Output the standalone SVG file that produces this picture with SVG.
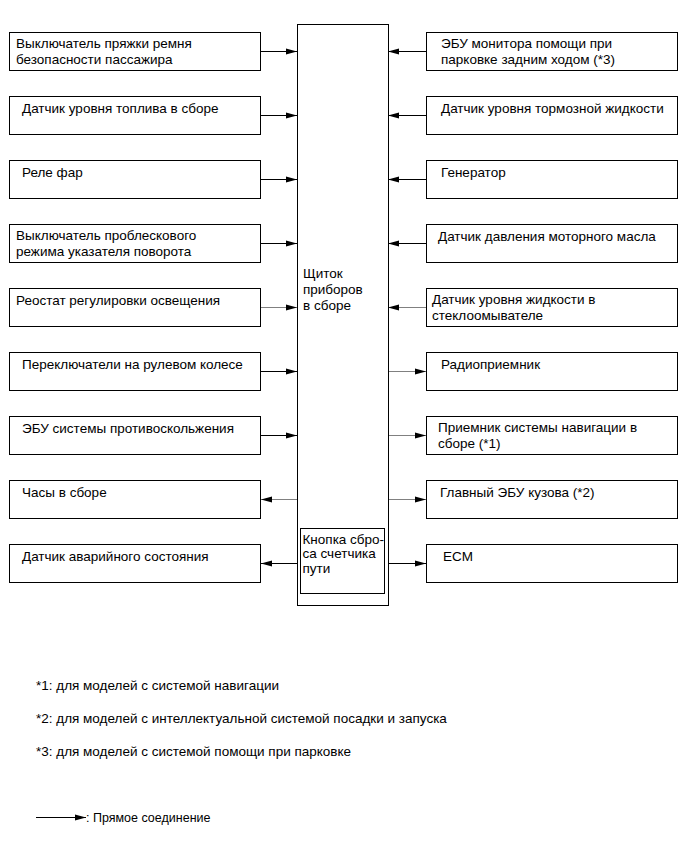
<svg xmlns="http://www.w3.org/2000/svg" width="691" height="854" viewBox="0 0 691 854">
<style>
.bx{fill:#fff;stroke:#000;stroke-width:1}
.t{font-family:"Liberation Sans",Arial,sans-serif;font-size:13.5px;fill:#000}
.c{stroke:#000;stroke-width:1;fill:none;marker-end:url(#ah)}
.g{stroke:#808080}
</style>
<defs>
<marker id="ah" markerUnits="userSpaceOnUse" markerWidth="12" markerHeight="8" refX="11" refY="4" orient="auto">
<path d="M0,1 L11,4 L0,7 Z" fill="#000"/>
</marker>
</defs>
<rect width="691" height="854" fill="#fff"/>
<g id="connectors">
<line class="c" x1="261" y1="51.5" x2="297" y2="51.5"/>
<line class="c" x1="261" y1="115.5" x2="297" y2="115.5"/>
<line class="c" x1="261" y1="179.5" x2="297" y2="179.5"/>
<line class="c" x1="261" y1="243.5" x2="297" y2="243.5"/>
<line class="c g" x1="261" y1="307.5" x2="297" y2="307.5"/>
<line class="c" x1="261" y1="371.5" x2="297" y2="371.5"/>
<line class="c" x1="261" y1="435.5" x2="297" y2="435.5"/>
<line class="c g" x1="297" y1="499.5" x2="261" y2="499.5"/>
<line class="c" x1="297" y1="563.5" x2="261" y2="563.5"/>
<line class="c" x1="426" y1="51.5" x2="388" y2="51.5"/>
<line class="c" x1="426" y1="115.5" x2="388" y2="115.5"/>
<line class="c" x1="426" y1="179.5" x2="388" y2="179.5"/>
<line class="c" x1="426" y1="243.5" x2="388" y2="243.5"/>
<line class="c g" x1="426" y1="307.5" x2="388" y2="307.5"/>
<line class="c g" x1="388" y1="371.5" x2="426" y2="371.5"/>
<line class="c g" x1="388" y1="435.5" x2="426" y2="435.5"/>
<line class="c g" x1="388" y1="499.5" x2="426" y2="499.5"/>
<line class="c" x1="388" y1="563.5" x2="426" y2="563.5"/>
</g>
<g id="center">
<rect class="bx" x="297.5" y="24.5" width="91" height="581"/>
<text class="t" x="303" y="277.5">Щиток</text>
<text class="t" x="303" y="293.5">приборов</text>
<text class="t" x="303" y="309.5">в сборе</text>
</g>
<g id="reset">
<rect class="bx" x="300.5" y="528.5" width="84" height="65"/>
<text class="t" x="302.5" y="543.5">Кнопка сбро-</text>
<text class="t" x="302.5" y="558">са счетчика</text>
<text class="t" x="302.5" y="572.5">пути</text>
</g>
<g id="l1"><rect class="bx" x="9.5" y="32.5" width="251" height="38"/><text class="t" x="16" y="48">Выключатель пряжки ремня</text><text class="t" x="16" y="63.5">безопасности пассажира</text></g>
<g id="l2"><rect class="bx" x="9.5" y="96.5" width="251" height="38"/><text class="t" x="22" y="113">Датчик уровня топлива в сборе</text></g>
<g id="l3"><rect class="bx" x="9.5" y="160.5" width="251" height="38"/><text class="t" x="22" y="177">Реле фар</text></g>
<g id="l4"><rect class="bx" x="9.5" y="224.5" width="251" height="38"/><text class="t" x="16" y="240">Выключатель проблескового</text><text class="t" x="16" y="255.5">режима указателя поворота</text></g>
<g id="l5"><rect class="bx" x="9.5" y="288.5" width="251" height="38"/><text class="t" x="16" y="305">Реостат регулировки освещения</text></g>
<g id="l6"><rect class="bx" x="9.5" y="352.5" width="251" height="38"/><text class="t" x="22" y="369">Переключатели на рулевом колесе</text></g>
<g id="l7"><rect class="bx" x="9.5" y="416.5" width="251" height="38"/><text class="t" x="22" y="433">ЭБУ системы противоскольжения</text></g>
<g id="l8"><rect class="bx" x="9.5" y="480.5" width="251" height="38"/><text class="t" x="22" y="497">Часы в сборе</text></g>
<g id="l9"><rect class="bx" x="9.5" y="544.5" width="251" height="38"/><text class="t" x="22" y="561">Датчик аварийного состояния</text></g>
<g id="r1"><rect class="bx" x="426.5" y="32.5" width="251" height="38"/><text class="t" x="441" y="48">ЭБУ монитора помощи при</text><text class="t" x="441" y="63.5">парковке задним ходом (*3)</text></g>
<g id="r2"><rect class="bx" x="426.5" y="96.5" width="251" height="38"/><text class="t" x="441" y="113">Датчик уровня тормозной жидкости</text></g>
<g id="r3"><rect class="bx" x="426.5" y="160.5" width="251" height="38"/><text class="t" x="441" y="177">Генератор</text></g>
<g id="r4"><rect class="bx" x="426.5" y="224.5" width="251" height="38"/><text class="t" x="438" y="241">Датчик давления моторного масла</text></g>
<g id="r5"><rect class="bx" x="426.5" y="288.5" width="251" height="38"/><text class="t" x="432" y="304">Датчик уровня жидкости в</text><text class="t" x="432" y="319.5">стеклоомывателе</text></g>
<g id="r6"><rect class="bx" x="426.5" y="352.5" width="251" height="38"/><text class="t" x="441" y="369">Радиоприемник</text></g>
<g id="r7"><rect class="bx" x="426.5" y="416.5" width="251" height="38"/><text class="t" x="438" y="432">Приемник системы навигации в</text><text class="t" x="438" y="447.5">сборе (*1)</text></g>
<g id="r8"><rect class="bx" x="426.5" y="480.5" width="251" height="38"/><text class="t" x="440" y="497">Главный ЭБУ кузова (*2)</text></g>
<g id="r9"><rect class="bx" x="426.5" y="544.5" width="251" height="38"/><text class="t" x="443" y="561">ECM</text></g>
<g id="notes">
<text class="t" x="36" y="690">*1: для моделей с системой навигации</text>
<text class="t" x="36" y="723">*2: для моделей с интеллектуальной системой посадки и запуска</text>
<text class="t" x="36" y="756">*3: для моделей с системой помощи при парковке</text>
</g>
<g id="legend">
<line class="c" x1="36" y1="817.5" x2="86" y2="817.5"/>
<text class="t" x="86" y="822" style="font-size:12.5px">: Прямое соединение</text>
</g>
</svg>
